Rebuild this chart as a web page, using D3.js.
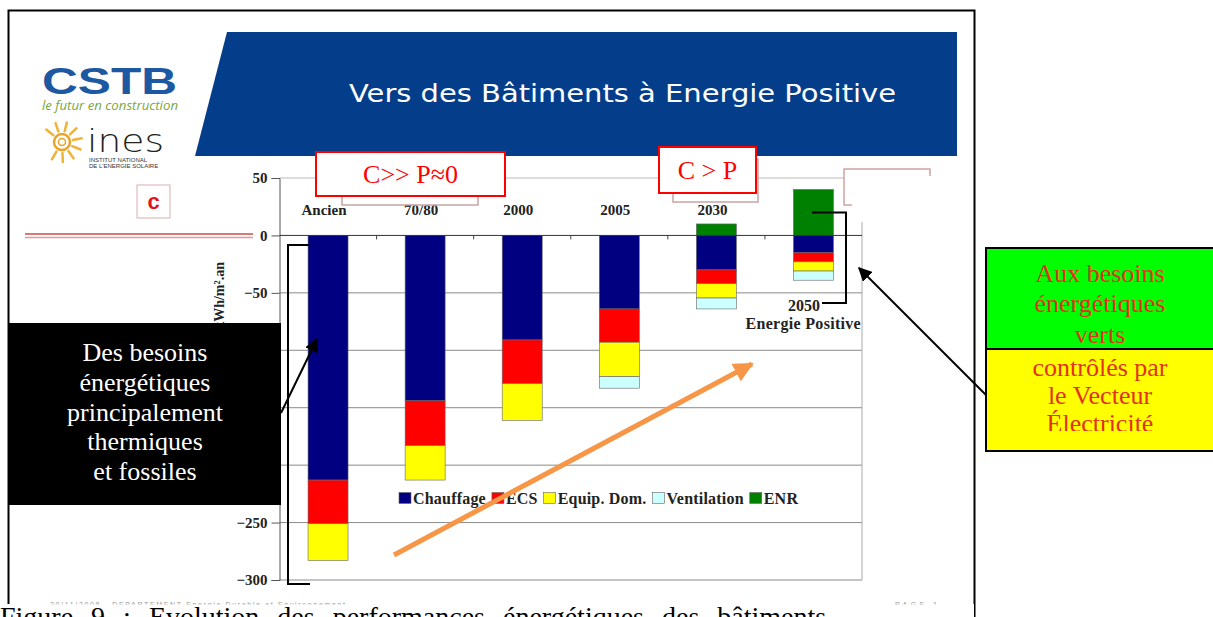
<!DOCTYPE html>
<html>
<head>
<meta charset="utf-8">
<script src="https://cdn.jsdelivr.net/npm/d3@7"></script>
<style>
  body { margin: 0; background: #fff; }
  svg { display: block; }
</style>
</head>
<body>
<svg id="chart" width="1213" height="617"></svg>
<script>
// Data
const categories = ["Ancien", "70/80", "2000", "2005", "2030", "2050"];
const chauffage = [213, 144, 91, 64, 30, 15];
const ecs = [38, 39, 38, 29, 12, 8];
const equipDom = [32, 30, 32, 30, 12.5, 8];
const ventilation = [0, 0, 0, 10, 9.5, 8];
const enr = [0, 0, 0, 0, 10, 40];
const seriesNames = ["Chauffage", "ECS", "Equip. Dom.", "Ventilation", "ENR"];
const seriesColors = ["#000080", "#ff0000", "#ffff00", "#ccffff", "#008000"];
const yTicks = [50, 0, -50, -100, -150, -200, -250, -300];

const serif = "'Liberation Serif', 'Times New Roman', serif";
const svg = d3.select('#chart');

// Slide frame + header
svg.append('rect').attr('x', 8.5).attr('y', 10.5).attr('width', 966).attr('height', 640)
  .attr('fill', '#fff').attr('stroke', '#000').attr('stroke-width', 2);

svg.append('polygon').attr('points', '227,32 957,32 957,156 195,156').attr('fill', '#043e8b');
svg.append('text').attr('x', 349).attr('y', 102).attr('fill', '#fff')
  .attr('font-family', "'DejaVu Sans', Verdana, sans-serif").attr('font-size', 24)
  .attr('textLength', 547).attr('lengthAdjust', 'spacingAndGlyphs').text('Vers des Bâtiments à Energie Positive');

// Logos
svg.append('text').attr('x', 42).attr('y', 94).attr('fill', '#1d58a3')
  .attr('font-family', "'Liberation Sans', Arial, sans-serif").attr('font-weight', 'bold')
  .attr('font-size', 36).attr('textLength', 135).attr('lengthAdjust', 'spacingAndGlyphs').text('CSTB');
svg.append('text').attr('x', 42).attr('y', 110).attr('fill', '#7aa83c')
  .attr('font-family', "'Open Sans', sans-serif").attr('font-style', 'italic')
  .attr('font-size', 12).attr('textLength', 136).attr('lengthAdjust', 'spacingAndGlyphs').text('le futur en construction');

const sun = svg.append('g').attr('transform', 'translate(62,142)');
d3.range(9).forEach(i => {
  const a = -Math.PI / 2 + i * 2 * Math.PI / 11 - 0.9;
  sun.append('line').attr('x1', Math.cos(a) * 11).attr('y1', Math.sin(a) * 11)
    .attr('x2', Math.cos(a) * 20).attr('y2', Math.sin(a) * 20)
    .attr('stroke', '#efb33a').attr('stroke-width', 2.5).attr('stroke-linecap', 'round');
});
sun.append('circle').attr('r', 8).attr('fill', 'none').attr('stroke', '#e9a52a').attr('stroke-width', 2.5);
sun.append('circle').attr('r', 3.5).attr('fill', 'none').attr('stroke', '#e9a52a').attr('stroke-width', 1.5);

svg.append('text').attr('x', 87).attr('y', 152).attr('fill', '#222')
  .attr('font-family', "'DejaVu Sans', sans-serif").attr('font-weight', 200)
  .attr('font-size', 32).attr('textLength', 77).attr('lengthAdjust', 'spacingAndGlyphs').text('ines');
[['INSTITUT NATIONAL', 161.5], ["DE L'ENERGIE SOLAIRE", 168]].forEach(([t, y]) => {
  svg.append('text').attr('x', 89).attr('y', y).attr('fill', '#333')
    .attr('font-family', "'Liberation Sans', sans-serif").attr('font-size', 6).text(t);
});

svg.append('rect').attr('x', 137).attr('y', 185).attr('width', 33).attr('height', 33)
  .attr('fill', '#fff').attr('stroke', '#d9b0b0').attr('stroke-width', 1);
svg.append('text').attr('x', 153.5).attr('y', 209).attr('text-anchor', 'middle').attr('fill', '#e3131b')
  .attr('font-family', "'Liberation Sans', sans-serif").attr('font-weight', 'bold').attr('font-size', 22).text('c');

svg.append('line').attr('x1', 25).attr('x2', 253).attr('y1', 234).attr('y2', 234).attr('stroke', '#d24848').attr('stroke-width', 1.5);
svg.append('line').attr('x1', 25).attr('x2', 253).attr('y1', 237.5).attr('y2', 237.5).attr('stroke', '#e39a9a').attr('stroke-width', 1.5);

// Chart
const x = d3.scaleBand().domain(categories).range([279.5, 862]).paddingInner(0.588).paddingOuter(0.294);
const y = d3.scaleLinear().domain([-300, 50]).range([580, 178]);

const plot = svg.append('g');
plot.selectAll('.grid').data(yTicks.filter(d => d !== 0)).join('line')
  .attr('x1', 279.5).attr('x2', 862).attr('y1', d => y(d)).attr('y2', d => y(d))
  .attr('stroke', d => d === 50 ? '#bbb' : '#8a8a8a').attr('stroke-width', 1);
plot.append('line').attr('x1', 862).attr('x2', 862).attr('y1', 222).attr('y2', 580).attr('stroke', '#aaa');

const yAxis = plot.append('g').attr('transform', 'translate(279.5,0)')
  .call(d3.axisLeft(y).tickValues(yTicks).tickSize(8).tickPadding(4));
yAxis.select('.domain').attr('stroke', '#555');
yAxis.selectAll('.tick line').attr('stroke', '#555');
yAxis.selectAll('text').attr('font-family', serif).attr('font-weight', 'bold').attr('font-size', 15).attr('fill', '#222');

plot.append('text').attr('transform', 'translate(224,262) rotate(-90)').attr('text-anchor', 'end')
  .attr('font-family', serif).attr('font-weight', 'bold').attr('font-size', 14).attr('fill', '#222')
  .text('Energie primaire en kWh/m².an');

const rows = categories.map((c, i) => ({
  cat: c,
  'Chauffage': -chauffage[i], 'ECS': -ecs[i], 'Equip. Dom.': -equipDom[i],
  'Ventilation': -ventilation[i], 'ENR': enr[i]
}));
const stacked = d3.stack().keys(seriesNames).offset(d3.stackOffsetDiverging)(rows);

plot.append('g').selectAll('g').data(stacked).join('g')
  .attr('fill', (d, i) => seriesColors[i])
  .selectAll('rect').data(d => d.filter(s => s[1] - s[0] !== 0)).join('rect')
  .attr('x', d => x(d.data.cat)).attr('width', x.bandwidth())
  .attr('y', d => y(d[1])).attr('height', d => y(d[0]) - y(d[1]))
  .attr('stroke', '#666').attr('stroke-width', 0.6);

// zero axis with category ticks
plot.append('line').attr('x1', 279.5).attr('x2', 862).attr('y1', y(0)).attr('y2', y(0)).attr('stroke', '#333');
plot.selectAll('.xtick').data(d3.range(1, categories.length)).join('line')
  .attr('x1', i => x(categories[i]) - x.step() * x.paddingInner() / 2)
  .attr('x2', i => x(categories[i]) - x.step() * x.paddingInner() / 2)
  .attr('y1', y(0)).attr('y2', y(0) + 4).attr('stroke', '#444');

plot.selectAll('.catlabel').data(categories.slice(0, -1)).join('text')
  .attr('x', d => x(d) + x.bandwidth() / 2 - 4).attr('y', y(0) - 20).attr('text-anchor', 'middle')
  .attr('font-family', serif).attr('font-weight', 'bold').attr('font-size', 15).attr('fill', '#222')
  .text(d => d);

// Legend
const legend = plot.append('g').attr('transform', 'translate(399,498)');
let lx = 0;
seriesNames.forEach((name, i) => {
  legend.append('rect').attr('x', lx).attr('y', -5.5).attr('width', 12).attr('height', 11)
    .attr('fill', seriesColors[i]).attr('stroke', '#666').attr('stroke-width', 0.6);
  const t = legend.append('text').attr('x', lx + 14).attr('y', 5.5)
    .attr('font-family', serif).attr('font-weight', 'bold').attr('font-size', 16)
    .attr('letter-spacing', 0.2).attr('fill', '#222').text(name);
  lx += 14 + t.node().getComputedTextLength() + 6;
});

// Top annotation boxes
function redBox(bx, by, bw, bh, backX, backW, label) {
  svg.append('rect').attr('x', backX).attr('y', by + 12).attr('width', backW).attr('height', bh - 3)
    .attr('fill', '#fff').attr('stroke', '#c9a3a3').attr('stroke-width', 1.5);
  svg.append('rect').attr('x', bx).attr('y', by).attr('width', bw).attr('height', bh)
    .attr('fill', '#fff').attr('stroke', '#ff0000').attr('stroke-width', 2);
  svg.append('text').attr('x', bx + bw / 2).attr('y', by + bh / 2 + 9).attr('text-anchor', 'middle')
    .attr('font-family', serif).attr('font-size', 26).attr('fill', '#ff0000').text(label);
}
redBox(316, 152, 189, 44, 342, 136, 'C>> P≈0');
redBox(659, 147, 97, 46, 673, 85, 'C > P');
svg.append('rect').attr('x', 844).attr('y', 169).attr('width', 86).attr('height', 36)
  .attr('fill', '#fff').attr('stroke', '#d4a0a0').attr('stroke-width', 1.5);
svg.append('rect').attr('x', 852).attr('y', 176).attr('width', 100).attr('height', 46).attr('fill', '#fff');

// Markers
const defs = svg.append('defs');
defs.append('marker').attr('id', 'arrowBlack').attr('viewBox', '0 0 10 10').attr('refX', 9).attr('refY', 5)
  .attr('markerWidth', 7).attr('markerHeight', 7).attr('orient', 'auto').attr('markerUnits', 'strokeWidth')
  .append('path').attr('d', 'M0,0 L10,5 L0,10 z').attr('fill', '#000');
defs.append('marker').attr('id', 'arrowOrange').attr('viewBox', '0 0 10 10').attr('refX', 9).attr('refY', 5)
  .attr('markerWidth', 4).attr('markerHeight', 4).attr('orient', 'auto').attr('markerUnits', 'strokeWidth')
  .append('path').attr('d', 'M0,0 L10,5 L0,10 z').attr('fill', '#f79646');

// Brackets
svg.append('path').attr('d', 'M310,245 H288 V584 H310').attr('fill', 'none').attr('stroke', '#000').attr('stroke-width', 2);
svg.append('path').attr('d', `M812,${y(20)} H846 V303 H822`).attr('fill', 'none').attr('stroke', '#000').attr('stroke-width', 2);
svg.append('text').attr('x', 820).attr('y', 311).attr('text-anchor', 'end')
  .attr('font-family', serif).attr('font-weight', 'bold').attr('font-size', 16).attr('fill', '#222')
  .text(categories[categories.length - 1]);
svg.append('text').attr('x', 861).attr('y', 329).attr('text-anchor', 'end')
  .attr('font-family', serif).attr('font-weight', 'bold').attr('font-size', 16).attr('letter-spacing', 0.3).attr('fill', '#222')
  .text('Energie Positive');

// Left black box
svg.append('rect').attr('x', 8).attr('y', 323).attr('width', 273).attr('height', 182).attr('fill', '#000');
['Des besoins', 'énergétiques', 'principalement', 'thermiques', 'et fossiles'].forEach((t, i) => {
  svg.append('text').attr('x', 145).attr('y', 361 + i * 29.8).attr('text-anchor', 'middle')
    .attr('font-family', serif).attr('font-size', 26).attr('fill', '#fff').text(t);
});
svg.append('line').attr('x1', 281).attr('y1', 413).attr('x2', 317).attr('y2', 339)
  .attr('stroke', '#000').attr('stroke-width', 2).attr('marker-end', 'url(#arrowBlack)');

// Right boxes
svg.append('rect').attr('x', 986).attr('y', 248).attr('width', 240).attr('height', 101)
  .attr('fill', '#00ff00').attr('stroke', '#000').attr('stroke-width', 2);
svg.append('rect').attr('x', 986).attr('y', 349).attr('width', 240).attr('height', 102)
  .attr('fill', '#ffff00').attr('stroke', '#000').attr('stroke-width', 2);
defs.append('clipPath').attr('id', 'clipYellow').append('rect').attr('x', 986).attr('y', 349).attr('width', 240).attr('height', 82);
const rightLines = [['Aux besoins', 282], ['énergétiques', 312], ['verts', 343], ['contrôlés par', 376], ['le Vecteur', 404], ['Électricité', 432]];
rightLines.forEach(([t, ty], i) => {
  svg.append('text').attr('x', 1100).attr('y', ty).attr('text-anchor', 'middle')
    .attr('clip-path', i >= 3 ? 'url(#clipYellow)' : null)
    .attr('font-family', serif).attr('font-size', 26).attr('fill', '#e5301f').text(t);
});
svg.append('line').attr('x1', 986).attr('y1', 395).attr('x2', 859).attr('y2', 268)
  .attr('stroke', '#000').attr('stroke-width', 2).attr('marker-end', 'url(#arrowBlack)');

// Orange arrow
svg.append('line').attr('x1', 394).attr('y1', 555).attr('x2', 752).attr('y2', 364)
  .attr('stroke', '#f79646').attr('stroke-width', 5).attr('marker-end', 'url(#arrowOrange)');

// Footer + caption
svg.append('rect').attr('x', 0).attr('y', 604).attr('width', 974).attr('height', 20).attr('fill', '#fff');
defs.append('clipPath').attr('id', 'clipFooter').append('rect').attr('x', 0).attr('y', 600).attr('width', 974).attr('height', 4.5);
svg.append('text').attr('x', 50).attr('y', 607).attr('clip-path', 'url(#clipFooter)')
  .attr('font-family', "'Liberation Sans', sans-serif").attr('font-size', 7).attr('fill', '#999')
  .attr('textLength', 295).text('20/11/2008  -  DEPARTEMENT Energie Durable et Environnement');
svg.append('text').attr('x', 895).attr('y', 607).attr('clip-path', 'url(#clipFooter)')
  .attr('font-family', "'Liberation Sans', sans-serif").attr('font-size', 7).attr('fill', '#999')
  .attr('textLength', 42).text('PAGE 1');
svg.append('text').attr('x', 0).attr('y', 626).attr('font-family', serif).attr('font-size', 28)
  .attr('word-spacing', 11).attr('fill', '#000')
  .text('Figure 9 : Evolution des performances énergétiques des bâtiments');
</script>
</body>
</html>
